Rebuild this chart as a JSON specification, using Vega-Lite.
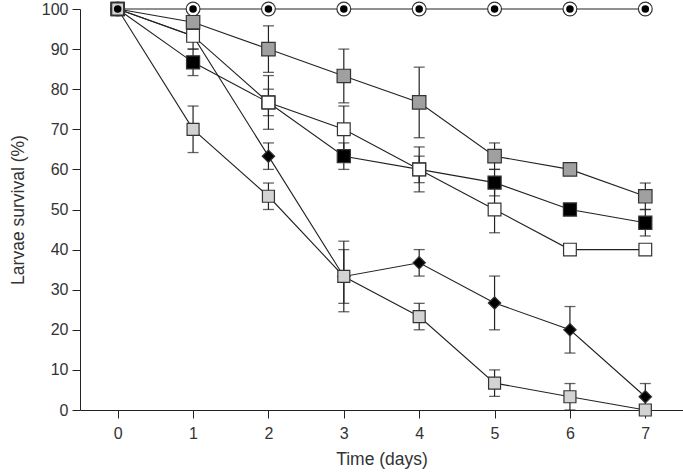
{
  "$schema": "https://vega.github.io/schema/vega-lite/v6.json",
  "width": 603,
  "height": 401,
  "autosize": {"type": "none"},
  "padding": {"left": 80, "top": 9, "right": 0, "bottom": 62},
  "background": "white",
  "config": {
    "view": {"stroke": null},
    "font": "Liberation Sans",
    "axis": {
      "grid": false,
      "domainColor": "#222",
      "tickColor": "#222",
      "labelColor": "#333",
      "titleColor": "#333",
      "labelFontSize": 16,
      "titleFontSize": 17.5,
      "titleFontWeight": "normal",
      "labelFont": "Liberation Sans",
      "titleFont": "Liberation Sans",
      "tickSize": 8
    }
  },
  "data": {
    "values": [
      {"series": "A", "day": 0, "v": 100}, {"series": "A", "day": 1, "v": 100}, {"series": "A", "day": 2, "v": 100}, {"series": "A", "day": 3, "v": 100},
      {"series": "A", "day": 4, "v": 100}, {"series": "A", "day": 5, "v": 100}, {"series": "A", "day": 6, "v": 100}, {"series": "A", "day": 7, "v": 100},
      {"series": "E", "day": 0, "v": 100},
      {"series": "E", "day": 1, "v": 93.3},
      {"series": "E", "day": 2, "v": 63.3, "lo": 60.0, "hi": 66.6},
      {"series": "E", "day": 3, "v": 33.3, "lo": 24.5, "hi": 42.1},
      {"series": "E", "day": 4, "v": 36.7, "lo": 33.4, "hi": 40.0},
      {"series": "E", "day": 5, "v": 26.7, "lo": 20.0, "hi": 33.4},
      {"series": "E", "day": 6, "v": 20.0, "lo": 14.2, "hi": 25.8},
      {"series": "E", "day": 7, "v": 3.3, "lo": 0, "hi": 6.6},
      {"series": "B", "day": 0, "v": 100},
      {"series": "B", "day": 1, "v": 96.7, "lo": 93.4, "hi": 100},
      {"series": "B", "day": 2, "v": 90.0, "lo": 84.2, "hi": 95.8},
      {"series": "B", "day": 3, "v": 83.3, "lo": 76.6, "hi": 90.0},
      {"series": "B", "day": 4, "v": 76.7, "lo": 67.9, "hi": 85.5},
      {"series": "B", "day": 5, "v": 63.3, "lo": 60.0, "hi": 66.6},
      {"series": "B", "day": 6, "v": 60.0},
      {"series": "B", "day": 7, "v": 53.3, "lo": 50.0, "hi": 56.6},
      {"series": "C", "day": 0, "v": 100},
      {"series": "C", "day": 1, "v": 86.7, "lo": 83.4, "hi": 90.0},
      {"series": "C", "day": 2, "v": 76.7, "lo": 73.4, "hi": 80.0},
      {"series": "C", "day": 3, "v": 63.3, "lo": 60.0, "hi": 66.6},
      {"series": "C", "day": 4, "v": 60.0, "lo": 56.7, "hi": 63.3},
      {"series": "C", "day": 5, "v": 56.7, "lo": 53.4, "hi": 60.0},
      {"series": "C", "day": 6, "v": 50.0},
      {"series": "C", "day": 7, "v": 46.7, "lo": 43.4, "hi": 50.0},
      {"series": "D", "day": 0, "v": 100},
      {"series": "D", "day": 1, "v": 93.3, "lo": 90.0, "hi": 96.6},
      {"series": "D", "day": 2, "v": 76.7, "lo": 70.0, "hi": 83.4},
      {"series": "D", "day": 3, "v": 70.0, "lo": 64.2, "hi": 75.8},
      {"series": "D", "day": 4, "v": 60.0, "lo": 54.4, "hi": 65.6},
      {"series": "D", "day": 5, "v": 50.0, "lo": 44.2, "hi": 55.8},
      {"series": "D", "day": 6, "v": 40.0},
      {"series": "D", "day": 7, "v": 40.0},
      {"series": "F", "day": 0, "v": 100},
      {"series": "F", "day": 1, "v": 70.0, "lo": 64.2, "hi": 75.8},
      {"series": "F", "day": 2, "v": 53.3, "lo": 50.0, "hi": 56.6},
      {"series": "F", "day": 3, "v": 33.3, "lo": 26.6, "hi": 40.0},
      {"series": "F", "day": 4, "v": 23.3, "lo": 20.0, "hi": 26.6},
      {"series": "F", "day": 5, "v": 6.7, "lo": 3.4, "hi": 10.0},
      {"series": "F", "day": 6, "v": 3.3, "lo": 0, "hi": 6.6},
      {"series": "F", "day": 7, "v": 0}
    ]
  },
  "encoding": {
    "x": {
      "field": "day", "type": "quantitative",
      "scale": {"domain": [-0.5, 7.5], "nice": false, "zero": false},
      "axis": {"values": [0, 1, 2, 3, 4, 5, 6, 7], "title": "Time (days)", "labelPadding": 7, "titlePadding": 9}
    }
  },
  "layer": [
    {
      "mark": {"type": "rule", "color": "#222", "strokeWidth": 1.2},
      "encoding": {
        "y": {
          "field": "lo", "type": "quantitative",
          "scale": {"domain": [0, 100], "nice": false},
          "axis": {"values": [0, 10, 20, 30, 40, 50, 60, 70, 80, 90, 100], "title": "Larvae survival (%)", "labelPadding": 4, "titlePadding": 14}
        },
        "y2": {"field": "hi"}
      }
    },
    {
      "mark": {"type": "tick", "orient": "horizontal", "color": "#222", "size": 11, "thickness": 1.3},
      "encoding": {"y": {"field": "lo", "type": "quantitative"}}
    },
    {
      "mark": {"type": "tick", "orient": "horizontal", "color": "#222", "size": 11, "thickness": 1.3},
      "encoding": {"y": {"field": "hi", "type": "quantitative"}}
    },
    {
      "mark": {"type": "line", "color": "#222", "strokeWidth": 1.1},
      "encoding": {
        "y": {"field": "v", "type": "quantitative"},
        "detail": {"field": "series"}
      }
    },
    {
      "mark": {"type": "point", "filled": true, "stroke": "#333", "strokeWidth": 1.2, "opacity": 1},
      "encoding": {
        "y": {"field": "v", "type": "quantitative"},
        "shape": {
          "field": "series", "type": "nominal", "legend": null,
          "scale": {"domain": ["A", "B", "C", "D", "E", "F"], "range": ["circle", "square", "square", "square", "diamond", "square"]}
        },
        "fill": {
          "field": "series", "type": "nominal", "legend": null,
          "scale": {"domain": ["A", "B", "C", "D", "E", "F"], "range": ["white", "#a0a0a0", "#000000", "white", "#000000", "#d3d3d3"]}
        },
        "size": {
          "field": "series", "type": "nominal", "legend": null,
          "scale": {"domain": ["A", "B", "C", "D", "E", "F"], "range": [190, 144, 144, 144, 210, 144]}
        }
      }
    },
    {
      "transform": [{"filter": "datum.series === 'A'"}],
      "mark": {"type": "point", "shape": "circle", "filled": true, "color": "#000", "size": 56, "opacity": 1},
      "encoding": {"y": {"field": "v", "type": "quantitative"}}
    }
  ]
}
